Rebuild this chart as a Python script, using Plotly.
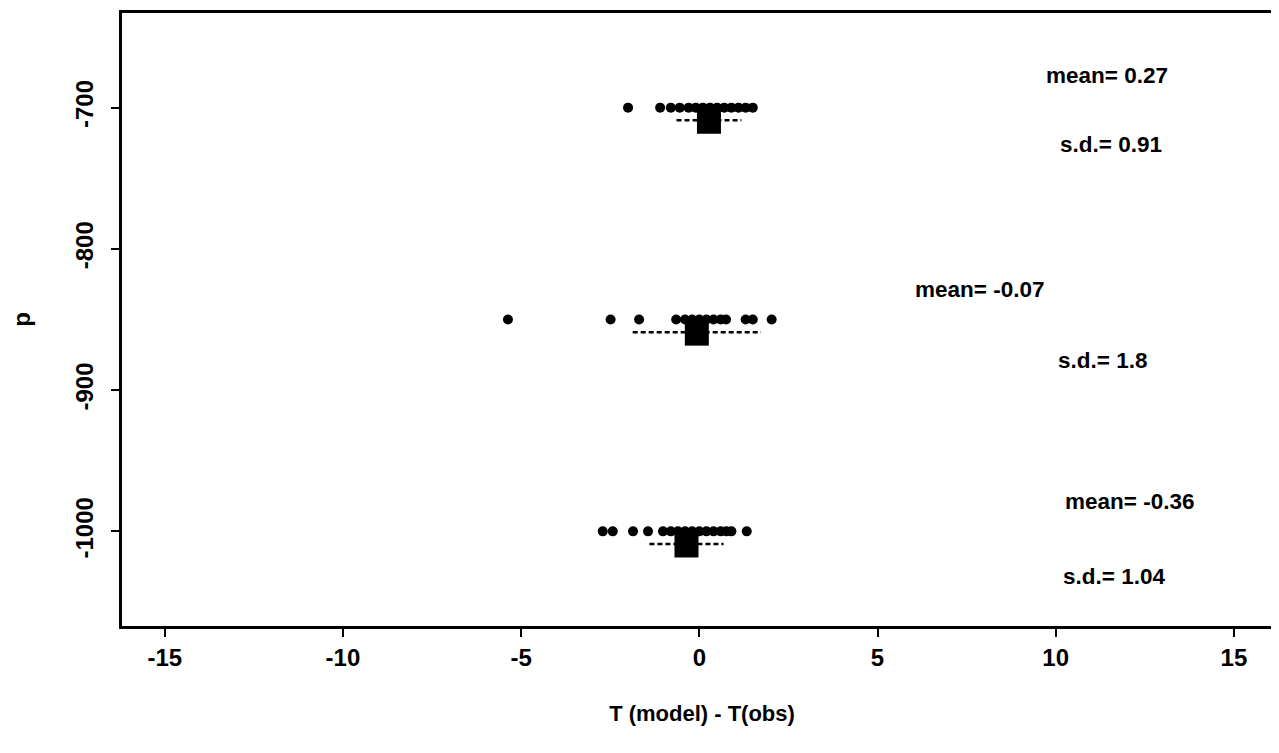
import plotly.graph_objects as go

# Pressure levels
levels = [-700, -850, -1000]

# Individual differences T(model) - T(obs) at each level
obs_700 = [-2.0, -1.1, -0.8, -0.55, -0.3, -0.1, 0.1, 0.3, 0.5, 0.7, 0.9, 1.1, 1.3, 1.5]
obs_850 = [-5.37, -2.49, -1.69, -0.65, -0.4, -0.2, 0.0, 0.2, 0.4, 0.6, 0.75, 1.3, 1.5, 2.03]
obs_1000 = [-2.71, -2.43, -1.86, -1.44, -1.02, -0.8, -0.6, -0.4, -0.2, 0.0, 0.2, 0.4, 0.6, 0.76, 0.9, 1.33]

# Summary statistics
means = [0.27, -0.07, -0.36]
sds = [0.91, 1.8, 1.04]
mean_labels = ["mean= 0.27", "mean= -0.07", "mean= -0.36"]
sd_labels = ["s.d.= 0.91", "s.d.= 1.8", "s.d.= 1.04"]

x_ticks = [-15, -10, -5, 0, 5, 10, 15]
y_ticks = [-700, -800, -900, -1000]

FONT = "Liberation Sans"
fig = go.Figure()

for lev, obs in zip(levels, [obs_700, obs_850, obs_1000]):
    fig.add_trace(go.Scatter(
        x=obs, y=[lev] * len(obs), mode="markers",
        marker=dict(color="black", size=10, symbol="circle"),
        showlegend=False, hoverinfo="x+y"))

for lev, m, s in zip(levels, means, sds):
    fig.add_trace(go.Scatter(
        x=[m - s, m + s], y=[lev - 9, lev - 9], mode="lines",
        line=dict(color="black", width=2.5, dash="5px,3px"),
        showlegend=False))
    fig.add_trace(go.Scatter(
        x=[m], y=[lev - 10], mode="markers",
        marker=dict(color="black", size=24, symbol="square"),
        showlegend=False))

# mean / s.d. annotations
mean_pos = [(9.67, -677), (5.99, -829), (10.2, -979)]
sd_pos = [(10.06, -726), (10.01, -879), (10.15, -1032)]
for (xx, yy), t in zip(mean_pos, mean_labels):
    fig.add_annotation(x=xx, y=yy, text=t, showarrow=False, xanchor="left",
                       font=dict(family=FONT, size=22.5, color="black", weight="bold"))
for (xx, yy), t in zip(sd_pos, sd_labels):
    fig.add_annotation(x=xx, y=yy, text=t, showarrow=False, xanchor="left",
                       font=dict(family=FONT, size=22.5, color="black", weight="bold"))

fig.update_layout(
    width=1279, height=753,
    margin=dict(l=114, r=5, t=2, b=135),
    plot_bgcolor="white", paper_bgcolor="white",
    font=dict(family=FONT, size=24, color="black", weight="bold"),
    xaxis=dict(
        range=[-16.2, 16.35], tickvals=x_ticks, ticktext=[str(v) for v in x_ticks],
        showgrid=False, zeroline=False, showline=True, linecolor="black", linewidth=2.5,
        mirror=True, ticks="outside", ticklen=8, tickwidth=2, tickcolor="black",
        ticklabelstandoff=0,
        title=dict(text="T (model) - T(obs)", standoff=37,
                   font=dict(family=FONT, size=22, color="black", weight="bold")),
    ),
    yaxis=dict(
        range=[-1067, -633], tickvals=y_ticks, ticktext=[str(v) for v in y_ticks],
        showgrid=False, zeroline=False, showline=True, linecolor="black", linewidth=2.5,
        mirror=True, ticks="outside", ticklen=8, tickwidth=2, tickcolor="black",
        tickangle=-90, ticklabelstandoff=9,
        title=dict(text="p", standoff=42,
                   font=dict(family=FONT, size=24, color="black", weight="bold")),
    ),
)

fig.write_html("out.html")
